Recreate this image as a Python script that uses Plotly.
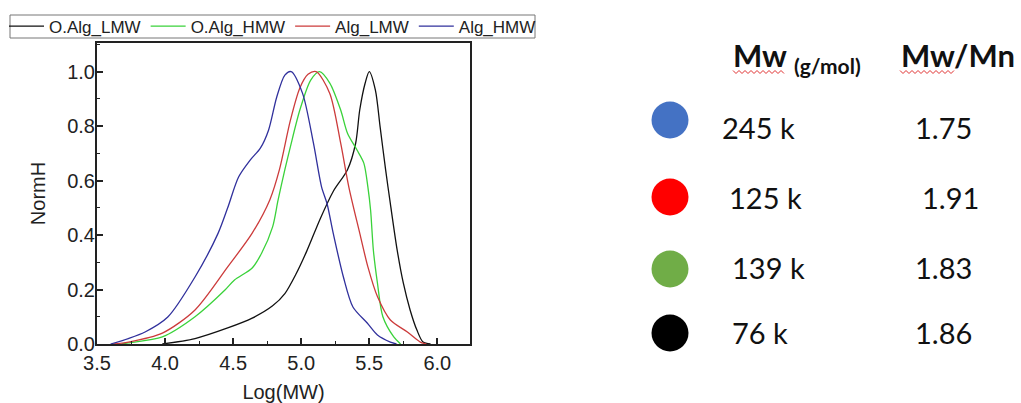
import plotly.graph_objects as go

# GPC traces: normalised height vs log(MW)
olmw_x = [3.98, 4.22, 4.46, 4.64, 4.79, 4.88, 4.96, 5.04, 5.14, 5.235, 5.34, 5.40, 5.43, 5.47, 5.50,
          5.545, 5.58, 5.62, 5.655, 5.705, 5.75, 5.80, 5.85, 5.895, 5.95]
olmw_y = [0.0, 0.02, 0.059, 0.095, 0.14, 0.185, 0.255, 0.34, 0.46, 0.56, 0.64, 0.737, 0.859, 0.958, 1.0,
          0.932, 0.796, 0.64, 0.515, 0.345, 0.224, 0.125, 0.051, 0.007, 0.0]

ohmw_x = [3.68, 3.73, 3.98, 4.22, 4.44, 4.51, 4.64, 4.71, 4.79, 4.83, 4.88, 4.92, 4.99, 5.07, 5.135,
          5.21, 5.29, 5.34, 5.41, 5.46, 5.49, 5.51, 5.53, 5.56, 5.60, 5.68, 5.73]
ohmw_y = [0.0, 0.004, 0.026, 0.10, 0.198, 0.235, 0.279, 0.334, 0.43, 0.528, 0.64, 0.723, 0.859, 0.969, 1.0,
          0.958, 0.859, 0.774, 0.712, 0.664, 0.576, 0.49, 0.345, 0.224, 0.10, 0.026, 0.0]

almw_x = [3.62, 3.73, 3.98, 4.22, 4.46, 4.64, 4.77, 4.84, 4.92, 4.99, 5.05, 5.11,
          5.21, 5.29, 5.35, 5.43, 5.49, 5.56, 5.655, 5.78, 5.875, 5.92]
almw_y = [0.0, 0.007, 0.04, 0.125, 0.283, 0.407, 0.53, 0.64, 0.82, 0.94, 0.99, 1.0,
          0.92, 0.737, 0.576, 0.407, 0.283, 0.174, 0.088, 0.044, 0.007, 0.0]

ahmw_x = [3.60, 3.73, 3.853, 4.02, 4.22, 4.39, 4.46, 4.54, 4.625, 4.70, 4.76, 4.82, 4.88, 4.926,
          5.01, 5.09, 5.15, 5.19, 5.235, 5.31, 5.38, 5.485, 5.56, 5.655, 5.70]
ahmw_y = [0.0, 0.02, 0.044, 0.099, 0.246, 0.407, 0.50, 0.613, 0.675, 0.719, 0.785, 0.906, 0.987, 1.0,
          0.92, 0.737, 0.576, 0.515, 0.407, 0.246, 0.136, 0.077, 0.033, 0.007, 0.0]

series_names = ["O.Alg_LMW", "O.Alg_HMW", "Alg_LMW", "Alg_HMW"]
series_colors = ["#111111", "#3ad23a", "#cc3b3b", "#30309c"]

# Summary table
table_colors = ["#4472c4", "#ff0000", "#70ad47", "#000000"]
mw_labels = ["245 k", "125 k", "139 k", "76 k"]
pdi_labels = ["1.75", "1.91", "1.83", "1.86"]

# layout constants (pixel space of the overlay axes)
DOT_Y = [120, 197, 269, 333]
TEXT_Y = [127, 197, 267, 332]
DOT_X = 670
MW_X = [720, 727, 730, 730]
PDI_X = [913, 920, 913, 913]

AX_FONT = "Liberation Sans, Arial, sans-serif"
TAB_FONT = "Lato, Carlito, sans-serif"

# figure geometry helpers (margins in px)
ML, MT, MB, W, H = 97, 43, 59, 1021, 403
PW, PH = W - ML, H - MT - MB


def px_to_paper_x(px):
    return (px - ML) / PW


def px_to_paper_y(py):
    return (H - MB - py) / PH


fig = go.Figure()
for xs, ys, name, col in zip([olmw_x, ohmw_x, almw_x, ahmw_x],
                             [olmw_y, ohmw_y, almw_y, ahmw_y],
                             series_names, series_colors):
    fig.add_trace(go.Scatter(x=xs, y=ys, name=name, mode="lines",
                             line=dict(color=col, width=1.3, shape="spline", smoothing=0.8)))

fig.add_trace(go.Scatter(x=[DOT_X] * len(DOT_Y), y=DOT_Y, mode="markers", xaxis="x2", yaxis="y2",
                         marker=dict(size=37, color=table_colors, line=dict(width=0)),
                         cliponaxis=False, showlegend=False, hoverinfo="skip"))

annotations = []
for xm, xp, yt, mw, pdi in zip(MW_X, PDI_X, TEXT_Y, mw_labels, pdi_labels):
    annotations.append(dict(x=xm, y=yt, xref="x2", yref="y2", text=mw, showarrow=False,
                            xanchor="left", yanchor="middle",
                            font=dict(family=TAB_FONT, size=29, color="#111")))
    annotations.append(dict(x=xp, y=yt, xref="x2", yref="y2", text=pdi, showarrow=False,
                            xanchor="left", yanchor="middle",
                            font=dict(family=TAB_FONT, size=29, color="#111")))

annotations.append(dict(x=731, y=55, xref="x2", yref="y2", text="<b>Mw</b>", showarrow=False,
                        xanchor="left", yanchor="middle", font=dict(family=TAB_FONT, size=31, color="#111")))
annotations.append(dict(x=792, y=65, xref="x2", yref="y2", text="<b>(g/mol)</b>", showarrow=False,
                        xanchor="left", yanchor="middle", font=dict(family=TAB_FONT, size=21, color="#111")))
annotations.append(dict(x=899, y=55, xref="x2", yref="y2", text="<b>Mw/Mn</b>", showarrow=False,
                        xanchor="left", yanchor="middle", font=dict(family=TAB_FONT, size=31, color="#111")))


def squiggle(x0, x1, y, amp=1.5, step=3):
    pts = []
    x = x0
    k = 0
    while x <= x1:
        pts.append((x, y + (amp if k % 2 else -amp)))
        x += step
        k += 1
    return "M " + " L ".join(f"{px},{py}" for px, py in pts)


shapes = [
    dict(type="path", xref="x2", yref="y2", path=squiggle(733, 786, 72),
         line=dict(color="#e03030", width=1)),
    dict(type="path", xref="x2", yref="y2", path=squiggle(900, 955, 72),
         line=dict(color="#e03030", width=1)),
    # legend frame
    dict(type="rect", xref="paper", yref="paper",
         x0=px_to_paper_x(10), x1=px_to_paper_x(535), y0=px_to_paper_y(38), y1=px_to_paper_y(15),
         line=dict(color="#777", width=1), fillcolor="rgba(0,0,0,0)"),
]

axis_common = dict(showline=True, linewidth=2, linecolor="#222", mirror=True, showgrid=False,
                   zeroline=False, ticks="inside", ticklen=6, tickwidth=1.5, tickcolor="#222",
                   tickformat=".1f", tickfont=dict(family=AX_FONT, size=20, color="#222"))

fig.update_layout(
    width=W, height=H,
    margin=dict(l=ML, r=0, t=MT, b=MB),
    paper_bgcolor="white", plot_bgcolor="rgba(0,0,0,0)",
    xaxis=dict(domain=[0, 373 / PW], range=[3.5, 6.24], tick0=3.5, dtick=0.5, ticklabelstandoff=0,
               minor=dict(dtick=0.25, ticks="inside", ticklen=3, tickcolor="#222", tickwidth=1.2),
               title=dict(text="Log(MW)", font=dict(family=AX_FONT, size=20, color="#222"), standoff=14),
               **axis_common),
    yaxis=dict(range=[0, 1.105], tick0=0, dtick=0.2, ticklabelstandoff=-4,
               minor=dict(dtick=0.1, ticks="inside", ticklen=3, tickcolor="#222", tickwidth=1.2),
               title=dict(text="NormH", font=dict(family=AX_FONT, size=20, color="#222"), standoff=16),
               **axis_common),
    xaxis2=dict(domain=[0, 1], range=[ML, W], visible=False, anchor="y2", fixedrange=True),
    yaxis2=dict(domain=[0, 1], range=[H - MB, MT], visible=False, anchor="x2", fixedrange=True),
    legend=dict(orientation="h", x=px_to_paper_x(4), xanchor="left", y=px_to_paper_y(26.5), yanchor="middle",
                borderwidth=0, bgcolor="rgba(0,0,0,0)",
                font=dict(family=AX_FONT, size=17, color="#222"),
                itemwidth=35, tracegroupgap=0),
    annotations=annotations,
    shapes=shapes,
    showlegend=True,
)

fig.write_html("out.html")
